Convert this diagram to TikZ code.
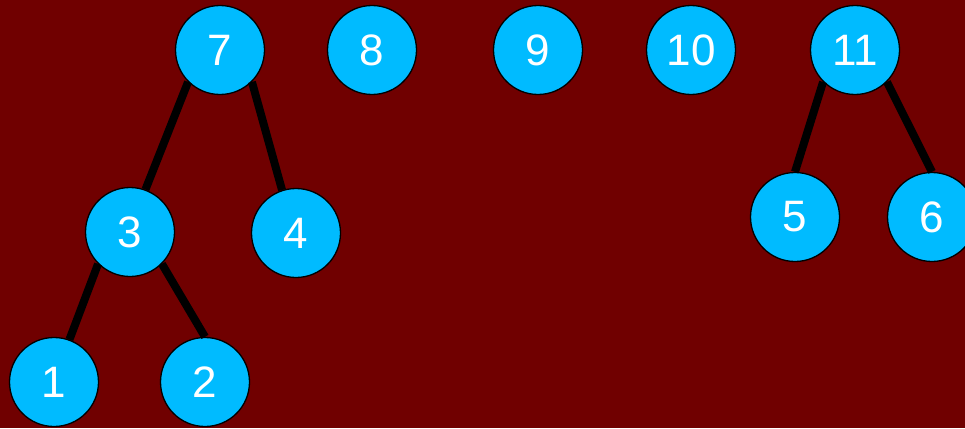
\documentclass[tikz,border=0pt]{standalone}
\usepackage{fontspec}
\setmainfont{Liberation Sans}
\definecolor{bgred}{RGB}{112,0,0}
\definecolor{nodecyan}{RGB}{0,187,255}
\begin{document}
\begin{tikzpicture}[x=1pt,y=-1pt,
  treenode/.style={circle,draw=black,line width=1.3pt,fill=nodecyan,minimum size=89pt,inner sep=0pt,text=white,font=\fontsize{44}{44}\selectfont},
  treeedge/.style={draw=black,line width=8pt,line cap=butt}]
\fill[bgred] (0,0) rectangle (965,428);
\useasboundingbox (0,0) rectangle (965,428);
\node[treenode] (n7) at (220,50) {7};
\node[treenode] (n8) at (372,50) {8};
\node[treenode] (n9) at (538,50) {9};
\node[treenode] (n10) at (691,50) {10};
\node[treenode] (n11) at (855,50) {11};
\node[treenode] (n3) at (130,232) {3};
\node[treenode] (n4) at (296,233) {4};
\node[treenode] (n5) at (795,217) {5};
\node[treenode] (n6) at (932,217) {6};
\node[treenode] (n1) at (54,382) {1};
\node[treenode] (n2) at (205,382) {2};
\draw[treeedge] (n7.south west) -- (n3.70);
\draw[treeedge] (n7.south east) -- (n4.108);
\draw[treeedge] (n3.south west) -- (n1.70);
\draw[treeedge] (n3.south east) -- (n2.north);
\draw[treeedge] (n11.south west) -- (n5.north);
\draw[treeedge] (n11.south east) -- (n6.north);
\end{tikzpicture}
\end{document}
